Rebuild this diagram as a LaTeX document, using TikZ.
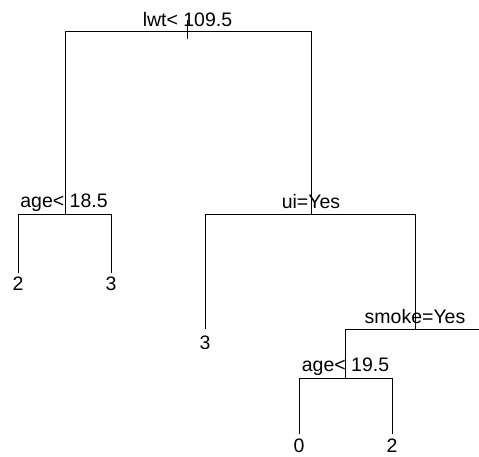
\documentclass[tikz,border=0pt]{standalone}
\usepackage{fontspec}
\setmainfont{Liberation Sans}
\begin{document}
\begin{tikzpicture}[x=1pt,y=-1pt,
  edge/.style={draw=black,line width=0.9pt},
  lbl/.style={anchor=base,inner sep=0pt,font=\fontsize{19.5}{21}\selectfont}]
\useasboundingbox (0,0) rectangle (479,456);
% split points
\coordinate (r) at (187.5,31);
\coordinate (rl) at (65,31);
\coordinate (rr) at (311,31);
\coordinate (a) at (65,214);
\coordinate (al) at (18,214);
\coordinate (ar) at (111,214);
\coordinate (u) at (311,214);
\coordinate (ul) at (205,214);
\coordinate (ur) at (415,214);
\coordinate (s) at (415,329.5);
\coordinate (sl) at (345.5,329.5);
\coordinate (sr) at (479,329.5);
\coordinate (g) at (345.5,378);
\coordinate (gl) at (299,378);
\coordinate (gr) at (392,378);
% leaf ends
\coordinate (l1) at (18,272.5);
\coordinate (l2) at (111,272.5);
\coordinate (l3) at (205,329);
\coordinate (l4) at (299,434);
\coordinate (l5) at (392,434);
\coordinate (t1) at (187.5,20);
\coordinate (t2) at (187.5,39);
% edges
\draw[edge] (t1) -- (t2);
\draw[edge] (a) |- (rl) -- (rr) -- (u);
\draw[edge] (l1) -- (al) -- (ar) -- (l2);
\draw[edge] (l3) -- (ul) -- (ur) -- (s);
\draw[edge] (g) -- (sl) -- (sr);
\draw[edge] (l4) -- (gl) -- (gr) -- (l5);
% labels
\node[lbl] (n1) at (187.5,26) {lwt< 109.5};
\node[lbl] (n2) at (64,207.5) {age< 18.5};
\node[lbl] (n3) at (311,208.5) {ui=Yes};
\node[lbl] (n4) at (415,323.5) {smoke=Yes};
\node[lbl] (n5) at (345.5,371) {age< 19.5};
\node[lbl] (v1) at (18,290) {2};
\node[lbl] (v2) at (111,290) {3};
\node[lbl] (v3) at (205,349) {3};
\node[lbl] (v4) at (299,452) {0};
\node[lbl] (v5) at (392,452) {2};
\end{tikzpicture}
\end{document}
